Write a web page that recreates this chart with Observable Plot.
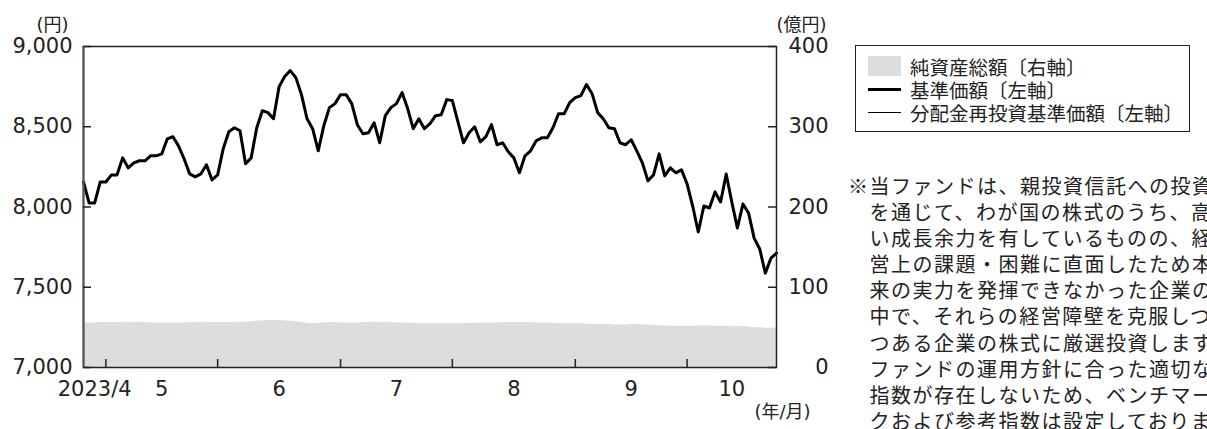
<!DOCTYPE html>
<html><head><meta charset="utf-8">
<script src="https://cdn.jsdelivr.net/npm/d3@7"></script>
<script src="https://cdn.jsdelivr.net/npm/@observablehq/plot@0.6"></script>
<style>
html,body{margin:0;padding:0;background:#fff;overflow:hidden;}
#wrap{position:relative;width:1207px;height:429px;overflow:hidden;background:#fff;}
#chart{position:absolute;left:0;top:0;}
#mark{position:absolute;left:0;top:0;width:13px;height:3px;background:#000;}
#legend{position:absolute;left:855px;top:45px;width:335px;height:87px;border:1px solid #222;box-sizing:border-box;font-family:"Noto Sans CJK JP",sans-serif;font-size:19.5px;color:#222;}
#legend .row{position:absolute;left:54px;height:22px;line-height:22px;white-space:nowrap;}
#legend .sw{position:absolute;left:12px;}
#note{position:absolute;left:848px;top:173px;font-family:"Noto Sans CJK JP",sans-serif;font-size:20px;letter-spacing:1.5px;line-height:26.1px;color:#222;white-space:pre;}
</style></head>
<body><div id="wrap"><div id="mark"></div><div id="chart"></div><div id="legend"></div><div id="note"></div></div>
<script>
// Month labels and trading days shown per month
const monthLabels = ["2023/4","5","6","7","8","9","10"];
const monthDays = [4,20,22,20,22,20,17];
// 基準価額 (円), one value per trading day
const nav = [
 8156,8025,8025,8156,
 8156,8200,8200,8306,8244,8275,8288,8288,8319,8319,8331,8425,8438,8381,8300,8206,8188,8206,8263,8169,
 8200,8363,8469,8494,8475,8269,8306,8494,8600,8588,8550,8750,8813,8850,8806,8700,8550,8488,8350,8506,8619,8644,
 8700,8700,8644,8513,8456,8463,8525,8400,8569,8619,8644,8713,8613,8488,8550,8488,8519,8569,8575,8669,
 8663,8531,8400,8463,8500,8406,8438,8513,8388,8400,8344,8306,8213,8319,8350,8413,8431,8431,8494,8581,8581,8650,
 8681,8694,8763,8706,8588,8550,8494,8488,8400,8388,8419,8350,8275,8163,8200,8331,8194,8244,8213,8231,
 8144,8006,7844,8006,7994,8094,8031,8206,8031,7869,8019,7963,7806,7738,7588,7681,7713
];
// 分配金再投資基準価額 (円) – coincides with 基準価額 in the picture
const reinvested = [
 8156,8025,8025,8156,
 8156,8200,8200,8306,8244,8275,8288,8288,8319,8319,8331,8425,8438,8381,8300,8206,8188,8206,8263,8169,
 8200,8363,8469,8494,8475,8269,8306,8494,8600,8588,8550,8750,8813,8850,8806,8700,8550,8488,8350,8506,8619,8644,
 8700,8700,8644,8513,8456,8463,8525,8400,8569,8619,8644,8713,8613,8488,8550,8488,8519,8569,8575,8669,
 8663,8531,8400,8463,8500,8406,8438,8513,8388,8400,8344,8306,8213,8319,8350,8413,8431,8431,8494,8581,8581,8650,
 8681,8694,8763,8706,8588,8550,8494,8488,8400,8388,8419,8350,8275,8163,8200,8331,8194,8244,8213,8231,
 8144,8006,7844,8006,7994,8094,8031,8206,8031,7869,8019,7963,7806,7738,7588,7681,7713
];
// 純資産総額 (億円)
const netAssets = [
 55,55.5,55.5,56,
 56,56,56,56,56.5,56.5,56.5,56,55.5,55.5,55.5,55.5,55,55,55.5,56,56.5,56.5,56,56,
 56,56,56,56,56.5,56.5,57,57.5,58,58.5,58.5,58.5,58,57.5,57,56,55,54.5,55,55.5,56,56,
 55.5,55,55,55.5,56,56,56.5,56.5,56.5,56,55.5,55.5,55,55,54.5,54.5,54.5,54.5,54.5,54.5,
 54.5,54.5,54.5,55,55,55,55.5,55.5,55.5,56,56,56,56,56,56,55.5,55.5,55,55,54.5,54.5,54.5,
 54.5,54.5,54,54,53.5,53.5,53.5,53,53,53,53.5,53.5,53,53,52.5,52,52,51.5,51.5,51.5,
 51.5,51.5,51.5,52,52,51.5,51.5,51.5,51.5,51,51,50.5,50,49.5,49,49,49
];
const leftTicks = [7000,7500,8000,8500,9000];
const legendLabels = ["純資産総額〔右軸〕","基準価額〔左軸〕","分配金再投資基準価額〔左軸〕"];
const noteLines = [
 "※当ファンドは、親投資信託への投資",
 "　を通じて、わが国の株式のうち、高",
 "　い成長余力を有しているものの、経",
 "　営上の課題・困難に直面したため本",
 "　来の実力を発揮できなかった企業の",
 "　中で、それらの経営障壁を克服しつ",
 "　つある企業の株式に厳選投資します",
 "　ファンドの運用方針に合った適切な",
 "　指数が存在しないため、ベンチマー",
 "　クおよび参考指数は設定しておりま"
];

const toLeft = v => 7000 + v * 5; // right axis 0–400 億円 onto left 7,000–9,000 円
const data = nav.map((v, i) => ({i, nav: v, re: reinvested[i], assets: netAssets[i]}));
const months = [];
let s = 0;
monthDays.forEach((n, k) => {
  months.push({label: monthLabels[k], start: s, mid: (s + Math.min(s + n, nav.length - 1)) / 2});
  s += n;
});
const boundaries = months.slice(1).map(m => m.start);

const chart = Plot.plot({
  width: 1207, height: 429,
  marginLeft: 83, marginRight: 431, marginTop: 46, marginBottom: 62,
  style: {fontFamily: '"DejaVu Sans","Noto Sans CJK JP",sans-serif', fontSize: "21px", color: "#222", background: "#fff", overflow: "visible"},
  x: {domain: [0, nav.length - 1], axis: null},
  y: {domain: [7000, 9000]},
  marks: [
    Plot.areaY(data, {x: "i", y1: () => toLeft(0), y2: d => toLeft(d.assets), fill: "#dcdddd", curve: "linear"}),
    Plot.line(data, {x: "i", y: "re", stroke: "#000", strokeWidth: 1}),
    Plot.line(data, {x: "i", y: "nav", stroke: "#000", strokeWidth: 3}),
    Plot.frame({stroke: "#222", strokeWidth: 1.5}),
    Plot.ruleX([0], {stroke: "#555", strokeWidth: 2}),
    Plot.tickX(boundaries, {x: d => d, insetTop: 313, stroke: "#222", strokeWidth: 1.5}),
    Plot.tickY(leftTicks, {y: d => d, insetRight: 685, stroke: "#222", strokeWidth: 1.5}),
    Plot.tickY(leftTicks, {y: d => d, insetLeft: 685, stroke: "#222", strokeWidth: 1.5}),
    Plot.axisY(leftTicks, {anchor: "left", tickSize: 0, tickPadding: 11, tickFormat: d3.format(","), label: null}),
    Plot.axisY(leftTicks, {anchor: "right", tickSize: 0, tickPadding: 52, textAnchor: "end", tickFormat: d => String((d - 7000) / 5), label: null}),
    Plot.text(months, {x: "mid", text: "label", frameAnchor: "bottom", dy: 28, fill: "#222"}),
    Plot.text(["(円)"], {text: d => d, frameAnchor: "top-left", textAnchor: "middle", dx: -31, dy: -28, fontSize: 18}),
    Plot.text(["(億円)"], {text: d => d, frameAnchor: "top-right", textAnchor: "start", dx: 0, dy: -28, fontSize: 18}),
    Plot.text(["(年/月)"], {text: d => d, frameAnchor: "bottom-right", textAnchor: "end", dx: 34, dy: 50, fontSize: 18})
  ]
});
document.getElementById("chart").appendChild(chart);

// legend
const lg = document.getElementById("legend");
legendLabels.forEach((t, k) => {
  const top = 10 + k * 23;
  const sw = document.createElement("div");
  sw.className = "sw";
  if (k === 0) { Object.assign(sw.style, {top: (top + 0) + "px", width: "33px", height: "20px", background: "#dcdddd"}); }
  else if (k === 1) { Object.assign(sw.style, {top: (top + 9) + "px", width: "33px", height: "3px", background: "#000"}); }
  else { Object.assign(sw.style, {top: (top + 10) + "px", width: "33px", height: "1.3px", background: "#000"}); }
  lg.appendChild(sw);
  const r = document.createElement("div");
  r.className = "row";
  r.style.top = top + "px";
  r.textContent = t;
  lg.appendChild(r);
});
document.getElementById("note").textContent = noteLines.join("\n");
</script>
</body></html>
